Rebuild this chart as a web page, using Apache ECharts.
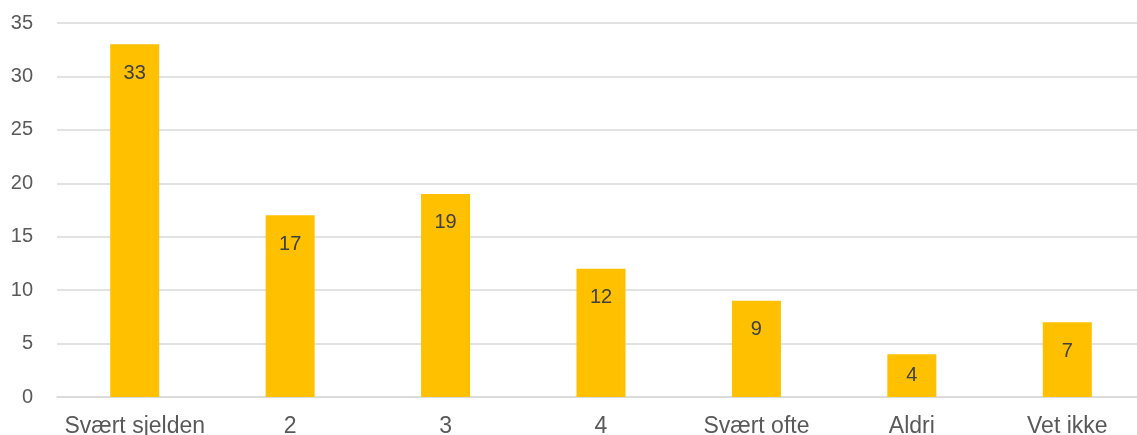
<!DOCTYPE html>
<html>
<head>
<meta charset="utf-8">
<script src="https://cdn.jsdelivr.net/npm/echarts@6/dist/echarts.min.js"></script>
<style>
  html, body { margin: 0; padding: 0; background: #ffffff; }
  #chart { width: 1137px; height: 435px; }
</style>
</head>
<body>
<div id="chart"></div>
<script>
// Answer categories and share of respondents (%)
const categories = ['Svært sjelden', '2', '3', '4', 'Svært ofte', 'Aldri', 'Vet ikke'];
const values = [33, 17, 19, 12, 9, 4, 7];
const yTicks = { min: 0, max: 35, interval: 5 };

const chart = echarts.init(document.getElementById('chart'), null, { renderer: 'canvas' });

// Short bars get their value label centred; taller bars carry it near the top
const barData = values.map(v => (v < 6
  ? { value: v, label: { position: 'inside' } }
  : v));

chart.setOption({
  animation: false,
  backgroundColor: '#ffffff',
  // plot area runs slightly past the right edge of the canvas
  grid: {
    left: 57, width: 1088, top: 23, height: 374,
    containLabel: false,
    outerBoundsMode: 'none'
  },
  xAxis: {
    type: 'category',
    data: categories,
    axisLine: { show: true, lineStyle: { color: '#d9d9d9', width: 1.5 } },
    axisTick: { show: false },
    axisLabel: {
      color: '#595959',
      fontFamily: 'Liberation Sans, Arial, sans-serif',
      fontSize: 23,
      margin: 18,
      interval: 0,
      hideOverlap: false
    }
  },
  yAxis: {
    type: 'value',
    min: yTicks.min,
    max: yTicks.max,
    interval: yTicks.interval,
    axisLine: { show: false },
    axisTick: { show: false },
    splitLine: { lineStyle: { color: '#d9d9d9', width: 1.5 } },
    axisLabel: {
      color: '#595959',
      fontFamily: 'Liberation Sans, Arial, sans-serif',
      fontSize: 20,
      margin: 24
    }
  },
  series: [{
    type: 'bar',
    data: barData,
    barWidth: 49,
    itemStyle: { color: '#FFC000' },
    label: {
      show: true,
      position: 'insideTop',
      distance: 19,
      color: '#404040',
      fontFamily: 'Liberation Sans, Arial, sans-serif',
      fontSize: 20
    }
  }]
});
</script>
</body>
</html>
